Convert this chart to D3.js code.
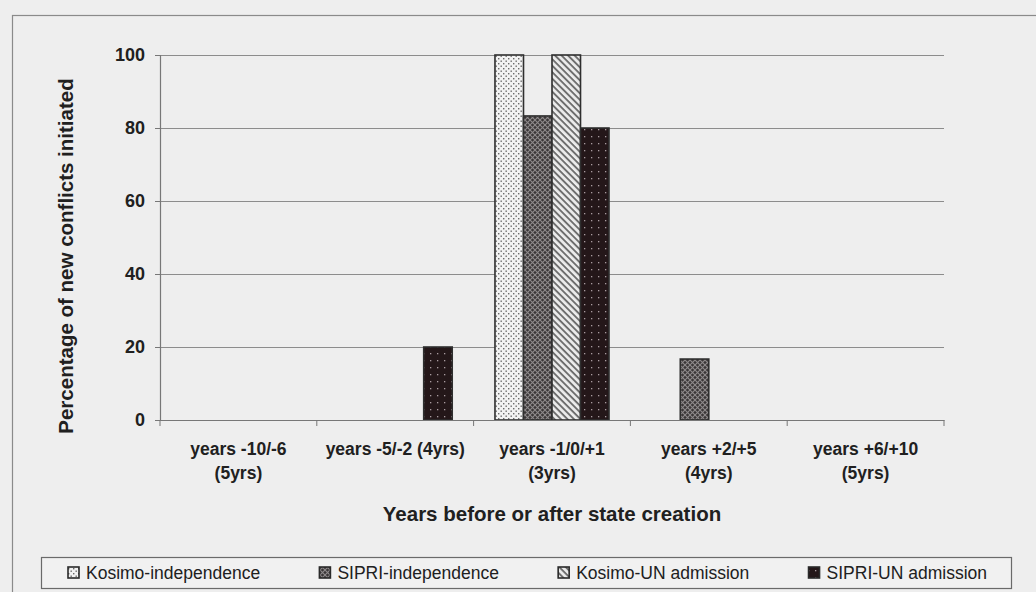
<!DOCTYPE html>
<html>
<head>
<meta charset="utf-8">
<script src="https://cdn.jsdelivr.net/npm/d3@7"></script>
<style>
  html, body { margin: 0; padding: 0; background: #eeeeee; }
  svg { display: block; }
  text { font-family: "Liberation Sans", Arial, sans-serif; fill: #202020; }
</style>
</head>
<body>
<svg id="chart" width="1036" height="592"></svg>
<script>
// Periods around state creation (category axis); "\n" marks a line break
const categories = [
  "years -10/-6\n(5yrs)",
  "years -5/-2 (4yrs)",
  "years -1/0/+1\n(3yrs)",
  "years +2/+5\n(4yrs)",
  "years +6/+10\n(5yrs)"
];
const seriesNames = ["Kosimo-independence", "SIPRI-independence", "Kosimo-UN admission", "SIPRI-UN admission"];
// Percentage of new conflicts initiated, per period
const kosimoIndependence = [0, 0, 100, 0, 0];
const sipriIndependence  = [0, 0, 83.3, 16.7, 0];
const kosimoUN           = [0, 0, 100, 0, 0];
const sipriUN            = [0, 20, 80, 0, 0];
const yTicks = [0, 20, 40, 60, 80, 100];
const yTitle = "Percentage of new conflicts initiated";
const xTitle = "Years before or after state creation";

const seriesValues = [kosimoIndependence, sipriIndependence, kosimoUN, sipriUN];

const svg = d3.select("#chart");
const plot = { left: 160, right: 944, top: 55, bottom: 420 };

// ---------- fill patterns ----------
const defs = svg.append("defs");

// dotted light fill
const p0 = defs.append("pattern").attr("id", "pat0").attr("patternUnits", "userSpaceOnUse")
  .attr("width", 5).attr("height", 5);
p0.append("rect").attr("width", 5).attr("height", 5).attr("fill", "#f2f2f2");
p0.append("rect").attr("x", 0.5).attr("y", 0.5).attr("width", 1.4).attr("height", 1.4).attr("fill", "#6a6a6a");
p0.append("rect").attr("x", 3).attr("y", 3).attr("width", 1.4).attr("height", 1.4).attr("fill", "#6a6a6a");

// dark lattice fill
const p1 = defs.append("pattern").attr("id", "pat1").attr("patternUnits", "userSpaceOnUse")
  .attr("width", 5).attr("height", 5);
p1.append("rect").attr("width", 5).attr("height", 5).attr("fill", "#3a3637");
p1.append("path").attr("d", "M0,0L5,5M5,0L0,5").attr("stroke", "#8e8a8b").attr("stroke-width", 1.1);

// diagonal stripes
const p2 = defs.append("pattern").attr("id", "pat2").attr("patternUnits", "userSpaceOnUse")
  .attr("width", 4.6).attr("height", 4.6).attr("patternTransform", "rotate(45)");
p2.append("rect").attr("width", 4.6).attr("height", 4.6).attr("fill", "#ececec");
p2.append("rect").attr("width", 4.6).attr("height", 1.9).attr("fill", "#6e6e6e");

// near-black with sparse light dots
const p3 = defs.append("pattern").attr("id", "pat3").attr("patternUnits", "userSpaceOnUse")
  .attr("width", 7).attr("height", 7);
p3.append("rect").attr("width", 7).attr("height", 7).attr("fill", "#241719");
p3.append("rect").attr("x", 3).attr("y", 3).attr("width", 1.3).attr("height", 1.3).attr("fill", "#a99ca0");

const fills = ["url(#pat0)", "url(#pat1)", "url(#pat2)", "url(#pat3)"];

// ---------- outer frame (runs past the right and bottom edges) ----------
svg.append("rect").attr("x", 12.5).attr("y", 15.5).attr("width", 1040).attr("height", 620)
  .attr("fill", "none").attr("stroke", "#8a8a8a").attr("stroke-width", 1.2);

// ---------- scales ----------
const x = d3.scaleBand().domain(categories).range([plot.left, plot.right]).padding(0);
const bw = x.bandwidth();
const gap = bw * 0.75 / 5.5;   // 150% gap width split on both sides
const x1 = d3.scaleBand().domain(d3.range(seriesNames.length)).range([gap, bw - gap]).padding(0);
const y = d3.scaleLinear().domain([0, 100]).range([plot.bottom, plot.top]);

// ---------- gridlines ----------
svg.append("g").attr("transform", `translate(${plot.left},0)`)
  .call(d3.axisLeft(y).tickValues(yTicks.filter(t => t > 0)).tickSize(-(plot.right - plot.left)).tickFormat(""))
  .call(g => g.select(".domain").remove())
  .call(g => g.selectAll("line").attr("stroke", "#8c8c8c").attr("stroke-width", 1));

// ---------- bars ----------
const rows = [];
categories.forEach((c, i) => seriesValues.forEach((vals, s) => {
  if (vals[i] > 0) rows.push({ c, s, v: vals[i] });
}));
svg.append("g").selectAll("rect").data(rows).join("rect")
  .attr("x", d => x(d.c) + x1(d.s))
  .attr("y", d => y(d.v))
  .attr("width", x1.bandwidth())
  .attr("height", d => y(0) - y(d.v))
  .attr("fill", d => fills[d.s])
  .attr("stroke", "#2e2e2e").attr("stroke-width", 1.6);

// ---------- y axis ----------
svg.append("g").attr("transform", `translate(${plot.left},0)`)
  .call(d3.axisLeft(y).tickValues(yTicks).tickSize(5).tickPadding(10))
  .call(g => g.select(".domain").attr("stroke", "#777").attr("stroke-width", 1.2))
  .call(g => g.selectAll("line").attr("stroke", "#777"))
  .call(g => g.selectAll("text").attr("font-size", 18).attr("font-weight", "bold")
    .attr("font-family", "Liberation Sans, Arial, sans-serif").attr("fill", "#222"));

// ---------- x axis ----------
const xAxis = svg.append("g").attr("transform", `translate(0,${plot.bottom})`)
  .call(d3.axisBottom(x).tickSize(0).tickPadding(0))
  .call(g => g.select(".domain").attr("stroke", "#777").attr("stroke-width", 1.2));
xAxis.selectAll(".tick text").each(function (d) {
  const t = d3.select(this).text(null).attr("font-size", 17.5).attr("font-weight", "bold")
    .attr("font-family", "Liberation Sans, Arial, sans-serif").attr("fill", "#222").attr("dy", null);
  d.split("\n").forEach((line, k) => t.append("tspan").attr("x", 0).attr("y", 35 + k * 24).text(line));
});
// boundary tick marks between periods
const bounds = categories.map(c => x(c)).concat([plot.right]);
xAxis.selectAll(".bound").data(bounds).join("line").attr("class", "bound")
  .attr("x1", d => d).attr("x2", d => d).attr("y1", 0).attr("y2", 6)
  .attr("stroke", "#777");

// ---------- axis titles ----------
svg.append("text").attr("x", (plot.left + plot.right) / 2).attr("y", 521)
  .attr("text-anchor", "middle").attr("font-size", 20.5).attr("font-weight", "bold").text(xTitle);
svg.append("text").attr("transform", "translate(73,256) rotate(-90)")
  .attr("text-anchor", "middle").attr("font-size", 20.5).attr("font-weight", "bold").text(yTitle);

// ---------- legend ----------
const legend = svg.append("g");
legend.append("rect").attr("x", 41.5).attr("y", 557.5).attr("width", 970).attr("height", 31)
  .attr("fill", "#f1f1f1").attr("stroke", "#6a6a6a").attr("stroke-width", 1.2);
const legendFont = 17.5;
// measure labels to space entries evenly across the box
const tmp = svg.append("text").attr("font-size", legendFont);
const widths = seriesNames.map(n => { tmp.text(n); return tmp.node().getComputedTextLength(); });
tmp.remove();
const startX = 68, endX = 987, markerW = 18;
const total = d3.sum(widths) + markerW * seriesNames.length;
const spacing = (endX - startX - total) / (seriesNames.length - 1);
let cx = startX;
seriesNames.forEach((n, i) => {
  legend.append("rect").attr("x", cx).attr("y", 567).attr("width", 11).attr("height", 11)
    .attr("fill", fills[i]).attr("stroke", "#2a2a2a").attr("stroke-width", 1.6);
  legend.append("text").attr("x", cx + markerW).attr("y", 579).attr("font-size", legendFont).text(n);
  cx += markerW + widths[i] + spacing;
});
</script>
</body>
</html>
